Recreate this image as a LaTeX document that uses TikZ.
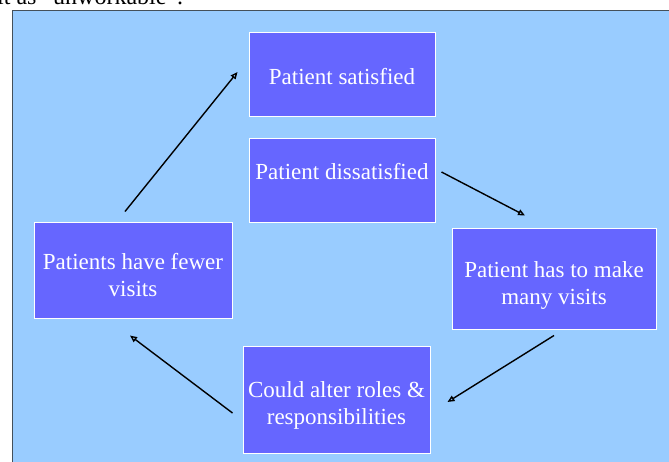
\documentclass[tikz,border=0pt]{standalone}
\usepackage{fontspec}
\setmainfont{Liberation Serif}
\usepackage{tikz}
\usetikzlibrary{arrows.meta,positioning}
\definecolor{slidebg}{HTML}{99CCFF}
\definecolor{boxfill}{HTML}{6666FF}
\definecolor{framegray}{HTML}{44505A}

\begin{document}
\begin{tikzpicture}[x=1pt,y=-1pt,
		stage/.style={rectangle, draw=white, fill=boxfill, line width=1pt, text=white,
			align=center, font=\fontsize{23}{27}\selectfont, inner sep=0pt, text depth=0pt},
		flow/.style={-{Triangle[open,length=7pt,width=6pt]}, line width=1.4pt, black},
		]
	\useasboundingbox (0,0) rectangle (669,461);
	\clip (0,0) rectangle (669,461);

	% slide background
	\fill[white] (0,0) rectangle (669,461);
	\node[anchor=base west, font=\fontsize{24}{28}\selectfont, inner sep=0pt] (caption) at (-3,4) {it as ``unworkable''.};
	\draw[framegray, line width=1.5pt, fill=slidebg] (12.5,10.5) rectangle (680,470);

	\node[stage, minimum width=186pt, minimum height=84pt, text height=20pt] (sat) at (342,74) {Patient satisfied};
	\node[stage, minimum width=186pt, minimum height=84pt, text height=16pt, text depth=18pt] (dissat) at (342,180) {Patient dissatisfied};
	\node[stage, minimum width=204pt, minimum height=101pt, text height=51pt] (many) at (554,278.5) {Patient has to make\\many visits};
	\node[stage, minimum width=187pt, minimum height=107pt, text height=49pt] (roles) at (336.5,399.5) {Could alter roles \&\\responsibilities};
	\node[stage, minimum width=198pt, minimum height=96pt, text height=52pt] (fewer) at (133,270) {Patients have fewer\\visits};

	\draw[flow] ([shift={(-8,-10)}]fewer.north) -- ([shift={(-11,-2)}]sat.west);
	\draw[flow] ([shift={(6,-8)}]dissat.east) -- ([shift={(-29,-12)}]many.north);
	\draw[flow] ([shift={(0,6)}]many.south) -- ([shift={(17,2.5)}]roles.east);
	\draw[flow] ([shift={(-10,13.5)}]roles.west) -- ([shift={(-3,17)}]fewer.south);

\end{tikzpicture}
\end{document}
